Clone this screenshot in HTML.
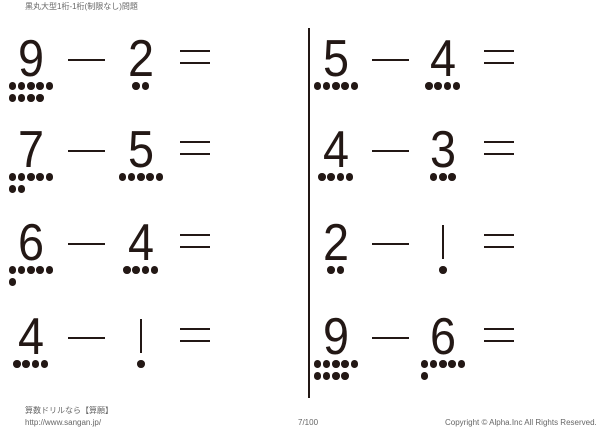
<!DOCTYPE html>
<html><head><meta charset="utf-8"><style>
body{margin:0;width:600px;height:429px;background:#fff;position:relative;overflow:hidden;font-family:"Liberation Sans","Noto Sans CJK JP",sans-serif;}
.d{position:absolute;width:60px;margin-left:-30px;text-align:center;font-size:52px;line-height:52px;color:#231815;transform:scaleX(0.9);}
.h{position:absolute;background:#231815;}
.dot{position:absolute;width:7.5px;height:7.5px;border-radius:50%;background:#231815;}
.t{position:absolute;color:#666;font-size:8px;white-space:nowrap;}
</style></head><body>
<div class="t" style="left:25px;top:1px">黒丸大型1桁-1桁(制限なし)問題</div>
<div class="h" style="left:308px;top:28px;width:1.5px;height:370px"></div>
<div id="c"></div>
<div class="t" style="left:25px;top:405px">算数ドリルなら【算願】</div>
<div class="t" style="left:25px;top:418px">http://www.sangan.jp/</div>
<div class="t" style="left:298px;top:418px">7/100</div>
<div class="t" style="left:445px;top:418px">Copyright © Alpha.Inc All Rights Reserved.</div>
<script>
(function(){
var rows=[41,132,225,319];
var data=[[9,2],[7,5],[6,4],[4,1],[5,4],[4,3],[2,1],[9,6]];
var h='';
function dots(n,cx,y){
 var first=Math.min(n,5);var w=8+(first-1)*9.25;var x0=cx-w/2;
 for(var i=0;i<first;i++)h+='<div class="dot" style="left:'+(x0+i*9.25)+'px;top:'+(y-4)+'px"></div>';
 for(var i=0;i<n-5;i++)h+='<div class="dot" style="left:'+(x0+i*9.25)+'px;top:'+(y+8)+'px"></div>';
}
function num(v,cx,ty){
 if(v==1){h+='<div class="h" style="left:'+(cx-1.3)+'px;top:'+ty+'px;width:2.6px;height:34px"></div>';}
 else h+='<div class="d" style="left:'+cx+'px;top:'+(ty-8)+'px">'+v+'</div>';
 dots(v,cx,ty+45);
}
for(var k=0;k<8;k++){
 var col=k<4?0:1,r=k%4,ty=rows[r],off=col?304:0;
 num(data[k][0],(col?336:31),ty);
 num(data[k][1],(col?443:141),ty);
 h+='<div class="h" style="left:'+(68+off)+'px;top:'+(ty+18)+'px;width:37px;height:2px"></div>';
 h+='<div class="h" style="left:'+(180+off)+'px;top:'+(ty+9)+'px;width:30px;height:2px"></div>';
 h+='<div class="h" style="left:'+(180+off)+'px;top:'+(ty+21)+'px;width:30px;height:2px"></div>';
}
document.getElementById('c').innerHTML=h;
})();
</script>
</body></html>
